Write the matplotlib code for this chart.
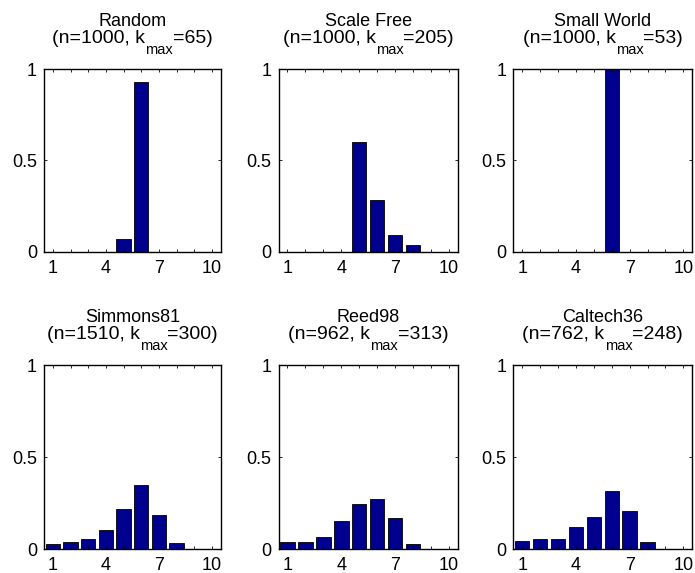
import matplotlib
matplotlib.use("Agg")
import matplotlib.pyplot as plt
import numpy as np

plt.rcParams['font.family'] = ['Liberation Sans', 'DejaVu Sans']

degrees = list(range(1, 11))
tick_labels = {1: '1', 4: '4', 7: '7', 10: '10'}

names = ['Random', 'Scale Free', 'Small World', 'Simmons81', 'Reed98', 'Caltech36']
n_nodes = [1000, 1000, 1000, 1510, 962, 762]
k_max = [65, 205, 53, 300, 313, 248]

random_vals = [0, 0, 0, 0, 0.07, 0.93, 0, 0, 0, 0]
scalefree_vals = [0, 0, 0, 0, 0.60, 0.28, 0.088, 0.036, 0, 0]
smallworld_vals = [0, 0, 0, 0, 0, 1.0, 0, 0, 0, 0]
simmons_vals = [0.028, 0.036, 0.052, 0.103, 0.220, 0.350, 0.183, 0.030, 0.002, 0.001]
reed_vals = [0.037, 0.037, 0.064, 0.152, 0.245, 0.270, 0.166, 0.027, 0.002, 0.001]
caltech_vals = [0.042, 0.057, 0.053, 0.117, 0.172, 0.317, 0.207, 0.037, 0.002, 0.001]

all_vals = [random_vals, scalefree_vals, smallworld_vals, simmons_vals, reed_vals, caltech_vals]

W, H = 695, 573
fig = plt.figure(figsize=(W / 100, H / 100), dpi=100)

lefts = [44, 278.5, 513.3]
widths = [176.7, 179.5, 179]
tops = [69, 365]
heights = [182.5, 184]

TICK_FS = 13
T1_FS = 13
T2_FS = 14
SUB_FS = 10.5
bar_color = '#00008F'

axes = []
for i in range(6):
    r, c = divmod(i, 3)
    x0 = lefts[c] / W
    y0 = (H - tops[r] - heights[r]) / H
    ax = fig.add_axes([x0, y0, widths[c] / W, heights[r] / H])
    ax.bar(degrees, all_vals[i], width=0.8, color=bar_color, edgecolor='black', linewidth=0.6)
    ax.set_xlim(0.5, 10.5)
    ax.set_ylim(0, 1)
    ax.set_xticks(degrees)
    ax.set_xticklabels([tick_labels.get(d, '') for d in degrees])
    ax.set_yticks([0, 0.5, 1])
    ax.set_yticklabels(['0', '0.5', '1'])
    ax.tick_params(direction='in', length=2.5, width=0.6, top=True, right=True,
                   labelsize=TICK_FS, pad=5)
    ax.tick_params(axis='x', pad=6)
    for s in ax.spines.values():
        s.set_linewidth(1.0)
    axes.append(ax)

fig.canvas.draw()
renderer = fig.canvas.get_renderer()

for i, ax in enumerate(axes):
    ax.annotate(names[i], xy=(0.5, 1), xycoords='axes fraction', xytext=(0, 43),
                textcoords='offset pixels', ha='center', va='baseline', fontsize=T1_FS)
    parts = [('(n=%d, k' % n_nodes[i], T2_FS, 26),
             ('max', SUB_FS, 15),
             ('=%d)' % k_max[i], T2_FS, 26)]
    texts = []
    for s, fs, dy in parts:
        t = ax.annotate(s, xy=(0.5, 1), xycoords='axes fraction', xytext=(0, dy),
                        textcoords='offset pixels', ha='left', va='baseline', fontsize=fs)
        texts.append((t, dy))
    ws = [t.get_window_extent(renderer).width for t, _ in texts]
    total = sum(ws)
    x = -total / 2
    for (t, dy), w in zip(texts, ws):
        t.set_position((x, dy))
        x += w

fig.savefig('out.png', dpi=100)
